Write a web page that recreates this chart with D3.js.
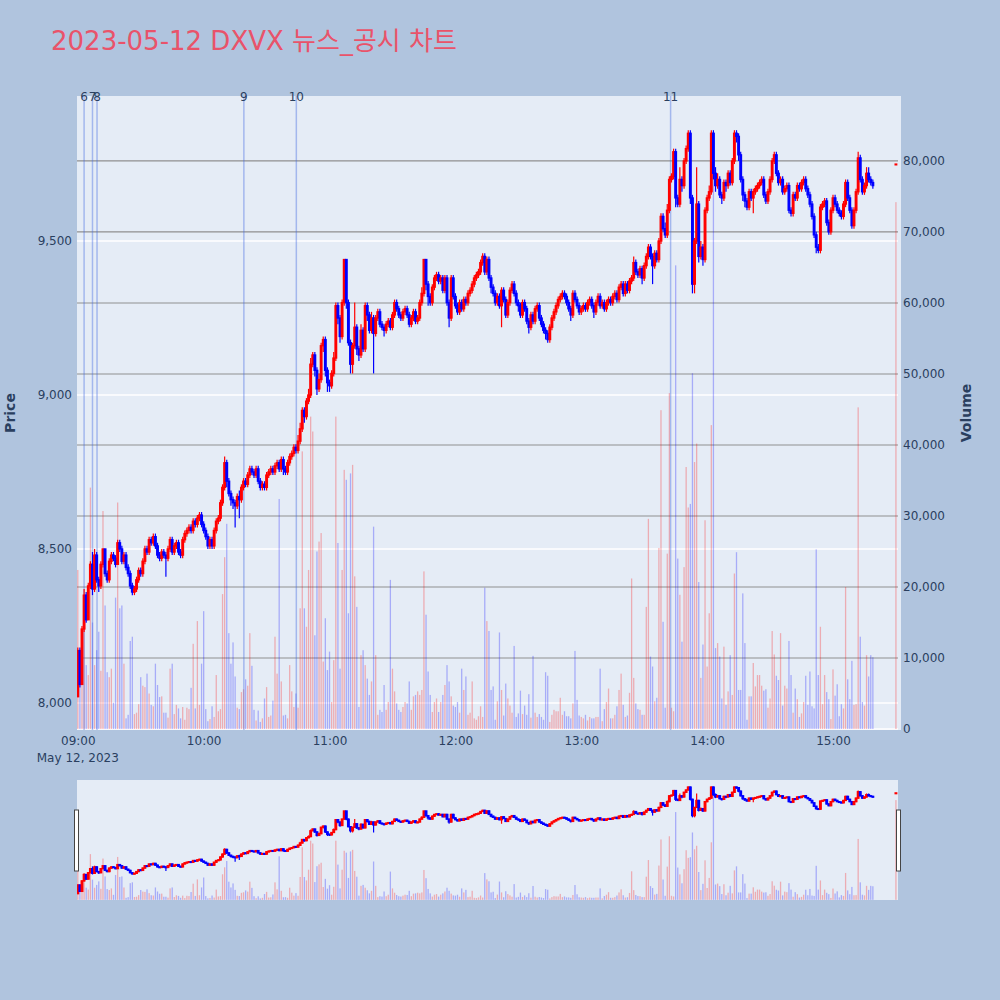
<!DOCTYPE html>
<html>
<head>
<meta charset="utf-8">
<script src="https://cdn.jsdelivr.net/npm/d3@7"></script>
<style>
  html, body { margin: 0; padding: 0; background: #b0c4de; }
  svg { display: block; font-family: "DejaVu Sans", "Noto Sans CJK KR", sans-serif; }
</style>
</head>
<body>
<svg id="chart" width="1000" height="1000"></svg>
<script>
// ─── data (1-minute candles 09:00–15:19, plus the 15:30 closing auction) ───
const chartTitle = '2023-05-12 DXVX 뉴스_공시 차트';
const sessionOpen = '09:00';
const auctionTime = '15:30';

const opens = [
  8020, 8170, 8060, 8240, 8350, 8270, 8380, 8450, 8370, 8480,
  8400, 8380, 8450, 8500, 8420, 8400, 8460, 8480, 8470, 8450,
  8520, 8500, 8460, 8480, 8440, 8420, 8380, 8360, 8370, 8400,
  8430, 8420, 8460, 8500, 8490, 8530, 8520, 8540, 8510, 8480,
  8470, 8490, 8480, 8470, 8500, 8530, 8490, 8510, 8520, 8490,
  8480, 8530, 8550, 8560, 8570, 8560, 8590, 8580, 8600, 8610,
  8580, 8560, 8540, 8510, 8530, 8510, 8560, 8590, 8600, 8650,
  8700, 8780, 8720, 8680, 8660, 8650, 8640, 8670, 8660, 8700,
  8720, 8710, 8740, 8760, 8750, 8740, 8760, 8720, 8700, 8710,
  8700, 8740, 8750, 8760, 8750, 8770, 8780, 8760, 8790, 8760,
  8750, 8780, 8800, 8810, 8830, 8820, 8850, 8890, 8950, 8930,
  8980, 9000, 9100, 9130, 9080, 9020, 9050, 9160, 9180, 9080,
  9040, 9030, 9070, 9120, 9290, 9250, 9190, 9300, 9440, 9300,
  9170, 9100, 9160, 9220, 9150, 9130, 9210, 9150, 9290, 9260,
  9210, 9250, 9200, 9250, 9270, 9230, 9220, 9210, 9230, 9240,
  9220, 9260, 9300, 9280, 9260, 9250, 9270, 9280, 9260, 9230,
  9250, 9270, 9240, 9250, 9300, 9330, 9440, 9360, 9320, 9300,
  9350, 9380, 9390, 9370, 9380, 9340, 9380, 9300, 9250, 9380,
  9320, 9290, 9270, 9300, 9280, 9310, 9300, 9330, 9340, 9360,
  9380, 9390, 9400, 9430, 9450, 9400, 9440, 9380, 9350, 9330,
  9300, 9320, 9290, 9340, 9310, 9260, 9300, 9340, 9360, 9330,
  9300, 9290, 9260, 9300, 9280, 9240, 9220, 9260, 9240, 9280,
  9290, 9250, 9230, 9210, 9200, 9180, 9220, 9250, 9270, 9290,
  9310, 9320, 9330, 9320, 9300, 9280, 9260, 9330, 9310, 9290,
  9270, 9280, 9290, 9280, 9300, 9310, 9290, 9270, 9300, 9320,
  9290, 9300, 9280, 9300, 9310, 9300, 9320, 9330, 9310, 9350,
  9360, 9330, 9360, 9340, 9370, 9380, 9430, 9400, 9390, 9410,
  9380, 9420, 9450, 9480, 9450, 9420, 9460, 9440, 9500, 9580,
  9540, 9520, 9600, 9700, 9710, 9790, 9640, 9620, 9700, 9680,
  9760, 9800, 9850, 9640, 9360, 9500, 9620, 9450, 9480, 9440,
  9600, 9640, 9660, 9850, 9720, 9680, 9700, 9650, 9640, 9690,
  9680, 9720, 9690, 9760, 9850, 9840, 9780, 9700, 9650, 9630,
  9610, 9660, 9640, 9660, 9670, 9680, 9690, 9700, 9650, 9630,
  9660, 9700, 9760, 9780, 9720, 9690, 9700, 9660, 9670, 9680,
  9600, 9590, 9650, 9640, 9680, 9670, 9690, 9700, 9670, 9650,
  9620, 9580, 9520, 9480, 9470, 9610, 9620, 9630, 9560, 9530,
  9600, 9640, 9620, 9600, 9590, 9580, 9620, 9690, 9640, 9600,
  9550, 9600, 9660, 9770, 9700, 9660, 9680, 9720, 9700, 9690,
  9750
];

const highs = [
  8180, 8180, 8250, 8370, 8360, 8390, 8460, 8490, 8500, 8490,
  8410, 8460, 8500, 8500, 8430, 8470, 8490, 8490, 8480, 8530,
  8530, 8510, 8490, 8490, 8450, 8430, 8390, 8380, 8410, 8440,
  8440, 8470, 8510, 8510, 8540, 8540, 8550, 8550, 8520, 8490,
  8500, 8500, 8490, 8510, 8540, 8540, 8520, 8530, 8530, 8500,
  8540, 8560, 8570, 8580, 8580, 8600, 8600, 8610, 8620, 8620,
  8590, 8570, 8550, 8540, 8540, 8570, 8600, 8610, 8660, 8710,
  8800, 8790, 8730, 8690, 8670, 8660, 8680, 8690, 8710, 8730,
  8730, 8750, 8770, 8770, 8760, 8770, 8770, 8730, 8720, 8720,
  8750, 8760, 8770, 8770, 8780, 8790, 8790, 8800, 8800, 8770,
  8790, 8810, 8820, 8840, 8840, 8870, 8910, 8960, 8960, 8990,
  9020, 9120, 9140, 9140, 9090, 9070, 9170, 9190, 9190, 9090,
  9050, 9080, 9140, 9300, 9300, 9260, 9310, 9440, 9440, 9310,
  9180, 9170, 9300, 9230, 9160, 9230, 9220, 9300, 9300, 9270,
  9270, 9260, 9260, 9280, 9280, 9240, 9230, 9240, 9250, 9250,
  9270, 9310, 9310, 9290, 9270, 9280, 9290, 9290, 9270, 9260,
  9280, 9280, 9260, 9310, 9350, 9440, 9440, 9370, 9330, 9360,
  9390, 9400, 9400, 9390, 9390, 9390, 9390, 9310, 9390, 9390,
  9330, 9300, 9310, 9310, 9320, 9320, 9340, 9350, 9370, 9390,
  9400, 9410, 9440, 9460, 9460, 9450, 9450, 9390, 9360, 9340,
  9330, 9330, 9350, 9350, 9320, 9310, 9350, 9370, 9370, 9340,
  9310, 9300, 9310, 9310, 9290, 9250, 9270, 9270, 9290, 9300,
  9300, 9260, 9240, 9220, 9210, 9230, 9260, 9280, 9300, 9320,
  9330, 9340, 9340, 9330, 9310, 9290, 9340, 9340, 9320, 9300,
  9290, 9300, 9300, 9310, 9320, 9320, 9300, 9310, 9330, 9330,
  9310, 9310, 9310, 9320, 9320, 9330, 9340, 9340, 9360, 9370,
  9370, 9370, 9370, 9380, 9390, 9450, 9440, 9410, 9420, 9420,
  9430, 9460, 9490, 9490, 9460, 9470, 9470, 9510, 9590, 9590,
  9560, 9620, 9710, 9720, 9800, 9800, 9650, 9740, 9710, 9770,
  9810, 9860, 9860, 9650, 9510, 9740, 9630, 9500, 9490, 9610,
  9650, 9680, 9860, 9860, 9740, 9720, 9710, 9660, 9700, 9700,
  9730, 9730, 9770, 9860, 9860, 9850, 9790, 9710, 9660, 9640,
  9670, 9670, 9670, 9680, 9690, 9700, 9710, 9710, 9660, 9670,
  9710, 9770, 9790, 9790, 9730, 9710, 9710, 9680, 9690, 9690,
  9610, 9660, 9660, 9690, 9690, 9700, 9710, 9710, 9680, 9660,
  9630, 9590, 9530, 9490, 9620, 9630, 9640, 9640, 9570, 9610,
  9650, 9650, 9630, 9610, 9600, 9630, 9700, 9700, 9650, 9610,
  9610, 9670, 9790, 9780, 9710, 9690, 9740, 9740, 9710, 9700,
  9750
];

const lows = [
  8020, 8050, 8060, 8230, 8260, 8270, 8370, 8350, 8360, 8390,
  8360, 8370, 8440, 8410, 8390, 8390, 8450, 8460, 8440, 8450,
  8490, 8450, 8450, 8430, 8410, 8370, 8350, 8350, 8360, 8390,
  8410, 8410, 8450, 8480, 8480, 8510, 8510, 8500, 8470, 8460,
  8460, 8470, 8410, 8460, 8490, 8480, 8480, 8500, 8480, 8470,
  8470, 8520, 8540, 8550, 8550, 8550, 8570, 8570, 8590, 8570,
  8550, 8530, 8500, 8500, 8500, 8500, 8550, 8580, 8590, 8640,
  8690, 8700, 8670, 8640, 8630, 8570, 8630, 8600, 8650, 8690,
  8700, 8700, 8730, 8740, 8730, 8730, 8710, 8690, 8690, 8690,
  8690, 8730, 8740, 8740, 8740, 8760, 8750, 8750, 8740, 8740,
  8740, 8770, 8790, 8800, 8810, 8810, 8840, 8880, 8910, 8920,
  8970, 8990, 9090, 9060, 9000, 9010, 9040, 9140, 9060, 9010,
  9010, 9020, 9060, 9110, 9230, 9170, 9180, 9290, 9280, 9160,
  9070, 9070, 9150, 9130, 9110, 9120, 9140, 9140, 9240, 9200,
  9200, 9070, 9190, 9240, 9220, 9210, 9190, 9200, 9220, 9210,
  9210, 9250, 9270, 9250, 9240, 9240, 9260, 9250, 9220, 9220,
  9240, 9230, 9230, 9240, 9290, 9320, 9340, 9290, 9290, 9290,
  9340, 9370, 9360, 9360, 9330, 9330, 9290, 9220, 9240, 9310,
  9280, 9260, 9260, 9270, 9270, 9290, 9290, 9320, 9330, 9350,
  9370, 9380, 9390, 9420, 9390, 9390, 9370, 9330, 9320, 9290,
  9290, 9280, 9220, 9300, 9250, 9250, 9290, 9330, 9320, 9290,
  9270, 9250, 9250, 9270, 9230, 9200, 9210, 9230, 9230, 9270,
  9240, 9220, 9200, 9180, 9170, 9170, 9210, 9240, 9260, 9280,
  9300, 9310, 9310, 9290, 9270, 9240, 9250, 9300, 9280, 9260,
  9260, 9270, 9270, 9270, 9290, 9280, 9250, 9260, 9290, 9280,
  9280, 9270, 9270, 9290, 9290, 9290, 9310, 9300, 9300, 9340,
  9320, 9320, 9330, 9330, 9360, 9370, 9390, 9380, 9380, 9360,
  9370, 9410, 9440, 9440, 9360, 9410, 9430, 9430, 9490, 9530,
  9510, 9510, 9590, 9690, 9700, 9610, 9610, 9610, 9660, 9670,
  9750, 9790, 9620, 9330, 9330, 9490, 9430, 9440, 9420, 9430,
  9590, 9630, 9650, 9700, 9660, 9670, 9640, 9620, 9630, 9660,
  9670, 9680, 9680, 9750, 9820, 9760, 9690, 9630, 9610, 9600,
  9600, 9630, 9590, 9650, 9660, 9670, 9680, 9640, 9620, 9620,
  9650, 9690, 9750, 9710, 9680, 9680, 9650, 9650, 9660, 9590,
  9580, 9580, 9630, 9630, 9660, 9660, 9680, 9660, 9640, 9610,
  9570, 9510, 9460, 9460, 9460, 9600, 9610, 9550, 9520, 9520,
  9590, 9610, 9590, 9580, 9570, 9570, 9610, 9630, 9590, 9540,
  9540, 9590, 9650, 9690, 9650, 9650, 9670, 9690, 9680, 9670,
  9750
];

const closes = [
  8170, 8060, 8240, 8350, 8270, 8380, 8450, 8370, 8480, 8400,
  8380, 8450, 8500, 8420, 8400, 8460, 8480, 8470, 8450, 8520,
  8500, 8460, 8480, 8440, 8420, 8380, 8360, 8370, 8400, 8430,
  8420, 8460, 8500, 8490, 8530, 8520, 8540, 8510, 8480, 8470,
  8490, 8480, 8470, 8500, 8530, 8490, 8510, 8520, 8490, 8480,
  8530, 8550, 8560, 8570, 8560, 8590, 8580, 8600, 8610, 8580,
  8560, 8540, 8510, 8530, 8510, 8560, 8590, 8600, 8650, 8700,
  8780, 8720, 8680, 8660, 8650, 8640, 8670, 8660, 8700, 8720,
  8710, 8740, 8760, 8750, 8740, 8760, 8720, 8700, 8710, 8700,
  8740, 8750, 8760, 8750, 8770, 8780, 8760, 8790, 8760, 8750,
  8780, 8800, 8810, 8830, 8820, 8850, 8890, 8950, 8930, 8980,
  9000, 9100, 9130, 9080, 9020, 9050, 9160, 9180, 9080, 9040,
  9030, 9070, 9120, 9290, 9250, 9190, 9300, 9440, 9300, 9170,
  9100, 9160, 9220, 9150, 9130, 9210, 9150, 9290, 9260, 9210,
  9250, 9200, 9250, 9270, 9230, 9220, 9210, 9230, 9240, 9220,
  9260, 9300, 9280, 9260, 9250, 9270, 9280, 9260, 9230, 9250,
  9270, 9240, 9250, 9300, 9330, 9440, 9360, 9320, 9300, 9350,
  9380, 9390, 9370, 9380, 9340, 9380, 9300, 9250, 9380, 9320,
  9290, 9270, 9300, 9280, 9310, 9300, 9330, 9340, 9360, 9380,
  9390, 9400, 9430, 9450, 9400, 9440, 9380, 9350, 9330, 9300,
  9320, 9290, 9340, 9310, 9260, 9300, 9340, 9360, 9330, 9300,
  9290, 9260, 9300, 9280, 9240, 9220, 9260, 9240, 9280, 9290,
  9250, 9230, 9210, 9200, 9180, 9220, 9250, 9270, 9290, 9310,
  9320, 9330, 9320, 9300, 9280, 9260, 9330, 9310, 9290, 9270,
  9280, 9290, 9280, 9300, 9310, 9290, 9270, 9300, 9320, 9290,
  9300, 9280, 9300, 9310, 9300, 9320, 9330, 9310, 9350, 9360,
  9330, 9360, 9340, 9370, 9380, 9430, 9400, 9390, 9410, 9380,
  9420, 9450, 9480, 9450, 9420, 9460, 9440, 9500, 9580, 9540,
  9520, 9600, 9700, 9710, 9790, 9640, 9620, 9700, 9680, 9760,
  9800, 9850, 9640, 9360, 9500, 9620, 9450, 9480, 9440, 9600,
  9640, 9660, 9850, 9720, 9680, 9700, 9650, 9640, 9690, 9680,
  9720, 9690, 9760, 9850, 9840, 9780, 9700, 9650, 9630, 9610,
  9660, 9640, 9660, 9670, 9680, 9690, 9700, 9650, 9630, 9660,
  9700, 9760, 9780, 9720, 9690, 9700, 9660, 9670, 9680, 9600,
  9590, 9650, 9640, 9680, 9670, 9690, 9700, 9670, 9650, 9620,
  9580, 9520, 9480, 9470, 9610, 9620, 9630, 9560, 9530, 9600,
  9640, 9620, 9600, 9590, 9580, 9620, 9690, 9640, 9600, 9550,
  9600, 9660, 9770, 9700, 9660, 9680, 9720, 9700, 9690, 9680,
  9750
];

const volumes = [
  22400, 8700, 6500, 18400, 9000, 7600, 34000, 15000, 9000, 11100,
  13700, 8200, 30700, 17400, 8000, 7300, 8500, 3700, 18500, 31900,
  17000, 17400, 9200, 1500, 2000, 12400, 13000, 2100, 2300, 3500,
  7300, 6100, 5900, 7800, 5000, 3400, 3200, 9200, 6200, 4500,
  4600, 2300, 2300, 1600, 8500, 9200, 2100, 3400, 2900, 1500,
  3100, 1300, 3000, 2800, 5800, 12000, 2900, 15200, 3400, 9200,
  16600, 2800, 1100, 1400, 3200, 1700, 7600, 2500, 2800, 19000,
  24200, 28900, 13500, 9200, 12200, 7400, 3000, 2800, 5200, 5600,
  7000, 6100, 13500, 8900, 2700, 1200, 2600, 1000, 1500, 4300,
  5900, 1700, 1900, 4000, 13000, 7800, 32400, 6700, 1900, 2000,
  1500, 9000, 5300, 3100, 5000, 3000, 17000, 39100, 17000, 14400,
  22400, 44000, 41900, 13200, 25000, 26400, 27600, 9500, 15600, 8300,
  10900, 3800, 9700, 44000, 26200, 8500, 22400, 36500, 35100, 16300,
  36000, 37200, 21500, 17200, 3100, 10400, 11100, 9000, 7100, 4800,
  6700, 28500, 10400, 2000, 2700, 2400, 6200, 2700, 3800, 21000,
  8500, 5300, 3600, 2700, 2400, 3100, 3800, 3600, 6700, 2700,
  4600, 4800, 5300, 4800, 5500, 22200, 16100, 8100, 4800, 2400,
  3800, 4300, 2400, 3800, 4800, 6200, 9000, 6700, 4600, 3300,
  3100, 3800, 2300, 8500, 5500, 7400, 2000, 2300, 6700, 1500,
  1300, 1800, 3200, 1700, 19900, 15200, 13800, 5500, 6000, 1300,
  3900, 13600, 5500, 1900, 6400, 4300, 3300, 2300, 11700, 1700,
  2200, 5400, 2100, 3300, 2000, 4900, 1600, 10300, 2300, 1700,
  2100, 1700, 1300, 8000, 7500, 1000, 2000, 2700, 2500, 2500,
  4400, 2000, 2500, 1800, 1800, 1500, 3600, 11000, 4100, 1900,
  1700, 1500, 2000, 1200, 1700, 1500, 1500, 1700, 1700, 8500,
  1100, 2800, 3800, 5700, 1500, 1500, 2000, 3200, 5500, 7800,
  3400, 1700, 1900, 5100, 21200, 7200, 3600, 2800, 2700, 2000,
  2000, 17200, 29600, 10200, 8800, 3900, 4400, 25500, 44900, 15100,
  3000, 24700, 47300, 3000, 2500, 65300, 24000, 18900, 12300, 22800,
  36900, 31200, 31700, 50100, 37600, 40200, 20700, 7200, 11900, 29400,
  8800, 16300, 42800, 84000, 11400, 12100, 10200, 4300, 11600, 3400,
  5300, 10400, 4800, 21900, 24900, 5500, 5500, 19100, 12100, 1300,
  4600, 4600, 9300, 6000, 7600, 7600, 6100, 5400, 5600, 3000,
  4300, 13800, 10500, 7500, 6900, 13500, 3300, 6100, 5700, 12400,
  7600, 2300, 5700, 4200, 1700, 2200, 3800, 7500, 3400, 8100,
  3200, 2900, 25300, 7600, 14400, 3500, 7600, 5200, 4200, 1400,
  8400, 4700, 6300, 1800, 3500, 2900, 20000, 7000, 4200, 9600,
  3400, 3500, 45300, 13000, 3800, 3300, 10400, 7400, 10400, 10100,
  74200
];

// news / disclosure markers
const newsLabels = ['6', '7', '8', '9', '10', '11'];
const newsTimes = ['09:03:00', '09:07:00', '09:09:10', '10:19:10', '10:44:10', '13:42:35'];

// axes
const xTickLabels = ['09:00', '10:00', '11:00', '12:00', '13:00', '14:00', '15:00'];
const priceTicks = [8000, 8500, 9000, 9500];
const volumeTicks = [0, 10000, 20000, 30000, 40000, 50000, 60000, 70000, 80000];
const priceRange = [7912, 9971];
const volumeRange = [-140, 89150];

// ─── layout ─────────────────────────────────────────────────────────────────
const UP = '#ff0000';
const DOWN = '#0000ff';
const TEXT = '#2a3f5f';
const PLOT_BG = '#e5ecf6';

const main = { x0: 77, x1: 901, y0: 96, y1: 730 };
const slider = { x0: 77, x1: 898, y0: 780, y1: 900 };

function parseTime(s) {
  const p = s.split(':').map(Number);
  return new Date(2023, 4, 12, p[0], p[1], p[2] || 0);
}

function candleTime(i) {
  if (i === opens.length - 1) return parseTime(auctionTime);
  return d3.timeMinute.offset(parseTime(sessionOpen), i);
}

const candles = opens.map(function (o, i) {
  const c = closes[i];
  const prev = i > 0 ? closes[i - 1] : o;
  return {
    t: candleTime(i),
    o: o, h: highs[i], l: lows[i], c: c,
    v: volumes[i],
    up: c > o || (c === o && c >= prev),
  };
});

const svg = d3.select('#chart');

const x = d3.scaleTime()
  .domain([parseTime('09:00'), parseTime('15:00')])
  .range([77.8, 833]);
const yPrice = d3.scaleLinear().domain(priceRange).range([main.y1, main.y0]);
const yVol = d3.scaleLinear().domain(volumeRange).range([main.y1, main.y0]);
const sPrice = yPrice.copy().range([slider.y1, slider.y0]);
const sVol = yVol.copy().range([slider.y1, slider.y0]);

const defs = svg.append('defs');
defs.append('clipPath').attr('id', 'clip-main').append('rect')
  .attr('x', main.x0).attr('y', main.y0)
  .attr('width', main.x1 - main.x0).attr('height', main.y1 - main.y0);
defs.append('clipPath').attr('id', 'clip-slider').append('rect')
  .attr('x', slider.x0).attr('y', slider.y0)
  .attr('width', slider.x1 - slider.x0).attr('height', slider.y1 - slider.y0);

// title
svg.append('text')
  .attr('x', 51).attr('y', 50)
  .attr('font-size', 26)
  .attr('fill', '#e9536a')
  .text(chartTitle);

// ─── main plot ──────────────────────────────────────────────────────────────
svg.append('rect')
  .attr('x', main.x0).attr('y', main.y0)
  .attr('width', main.x1 - main.x0).attr('height', main.y1 - main.y0)
  .attr('fill', PLOT_BG);

const grid = svg.append('g');
grid.selectAll('line.pgrid').data(priceTicks).join('line')
  .attr('class', 'pgrid')
  .attr('x1', main.x0).attr('x2', 898)
  .attr('y1', function (d) { return yPrice(d); })
  .attr('y2', function (d) { return yPrice(d); })
  .attr('stroke', '#fff').attr('stroke-width', 1.5);
grid.selectAll('line.vgrid').data(volumeTicks).join('line')
  .attr('class', 'vgrid')
  .attr('x1', main.x0).attr('x2', 898)
  .attr('y1', function (d) { return yVol(d); })
  .attr('y2', function (d) { return yVol(d); })
  .attr('stroke', function (d) { return d === 0 ? '#fff' : '#8f8f8f'; })
  .attr('stroke-width', function (d) { return d === 0 ? 1.5 : 1.2; });

function drawVolume(g, yv, w) {
  g.selectAll('rect.vol').data(candles).join('rect')
    .attr('class', 'vol')
    .attr('x', function (d) { return x(d.t) - w / 2; })
    .attr('width', w)
    .attr('y', function (d) { return yv(d.v); })
    .attr('height', function (d) { return Math.max(0, yv(0) - yv(d.v)); })
    .attr('fill', function (d) { return d.up ? UP : DOWN; })
    .attr('fill-opacity', 0.27);
}

function drawCandles(g, yp) {
  const c = g.selectAll('g.candle').data(candles).join('g').attr('class', 'candle');
  c.append('line')
    .attr('x1', function (d) { return x(d.t); })
    .attr('x2', function (d) { return x(d.t); })
    .attr('y1', function (d) { return yp(d.h); })
    .attr('y2', function (d) { return yp(d.l); })
    .attr('stroke', function (d) { return d.up ? UP : DOWN; })
    .attr('stroke-width', 1.2);
  c.append('rect')
    .attr('x', function (d) { return x(d.t) - 0.8; })
    .attr('width', 1.6)
    .attr('y', function (d) { return yp(Math.max(d.o, d.c)); })
    .attr('height', function (d) { return Math.max(0.8, Math.abs(yp(d.o) - yp(d.c))); })
    .attr('fill', function (d) { return d.up ? UP : DOWN; })
    .attr('stroke', function (d) { return d.up ? UP : DOWN; })
    .attr('stroke-width', 1.3);
}

const plot = svg.append('g').attr('clip-path', 'url(#clip-main)');
drawVolume(plot.append('g'), yVol, 1.3);

// news markers
const news = newsTimes.map(function (t, i) { return { t: parseTime(t), label: newsLabels[i] }; });
plot.append('g').selectAll('line').data(news).join('line')
  .attr('x1', function (d) { return x(d.t); })
  .attr('x2', function (d) { return x(d.t); })
  .attr('y1', main.y0).attr('y2', main.y1)
  .attr('stroke', 'royalblue')
  .attr('stroke-opacity', 0.4)
  .attr('stroke-width', 1.5);

drawCandles(plot.append('g'), yPrice);

svg.append('g').selectAll('text').data(news).join('text')
  .attr('x', function (d) { return x(d.t); })
  .attr('y', 101)
  .attr('text-anchor', 'middle')
  .attr('font-size', 12)
  .attr('fill', TEXT)
  .text(function (d) { return d.label; });

// ─── axes ───────────────────────────────────────────────────────────────────
function styleAxis(g) {
  g.select('.domain').remove();
  g.selectAll('text').attr('fill', TEXT).attr('font-size', 12)
    .attr('font-family', '"DejaVu Sans", sans-serif');
}

svg.append('g')
  .attr('transform', 'translate(' + main.x0 + ',0)')
  .call(d3.axisLeft(yPrice).tickValues(priceTicks).tickSize(0).tickPadding(5)
    .tickFormat(d3.format(',')))
  .call(styleAxis);

svg.append('g')
  .attr('transform', 'translate(898,0)')
  .call(d3.axisRight(yVol).tickValues(volumeTicks).tickSize(0).tickPadding(5)
    .tickFormat(d3.format(',')))
  .call(styleAxis);

svg.append('g')
  .attr('transform', 'translate(0,' + main.y1 + ')')
  .call(d3.axisBottom(x).tickValues(xTickLabels.map(parseTime)).tickSize(0).tickPadding(6)
    .tickFormat(d3.timeFormat('%H:%M')))
  .call(styleAxis);

svg.append('text')
  .attr('x', x(parseTime(sessionOpen))).attr('y', 762)
  .attr('text-anchor', 'middle')
  .attr('font-size', 12).attr('fill', TEXT)
  .text(d3.timeFormat('%b %-d, %Y')(parseTime(sessionOpen)));

svg.append('text')
  .attr('transform', 'translate(15,413) rotate(-90)')
  .attr('text-anchor', 'middle')
  .attr('font-size', 14).attr('font-weight', 'bold').attr('fill', TEXT)
  .text('Price');

svg.append('text')
  .attr('transform', 'translate(971,413) rotate(-90)')
  .attr('text-anchor', 'middle')
  .attr('font-size', 14).attr('font-weight', 'bold').attr('fill', TEXT)
  .text('Volume');

// ─── range slider ───────────────────────────────────────────────────────────
svg.append('rect')
  .attr('x', slider.x0).attr('y', slider.y0)
  .attr('width', slider.x1 - slider.x0).attr('height', slider.y1 - slider.y0)
  .attr('fill', PLOT_BG);

const mini = svg.append('g').attr('clip-path', 'url(#clip-slider)');
drawVolume(mini.append('g'), sVol, 1.3);
drawCandles(mini.append('g'), sPrice);

[slider.x0 - 2.5, slider.x1 - 1.5].forEach(function (hx) {
  svg.append('rect')
    .attr('x', hx).attr('y', 810)
    .attr('width', 4).attr('height', 61)
    .attr('fill', '#fff')
    .attr('stroke', '#444')
    .attr('stroke-width', 1);
});
</script>
</body>
</html>
